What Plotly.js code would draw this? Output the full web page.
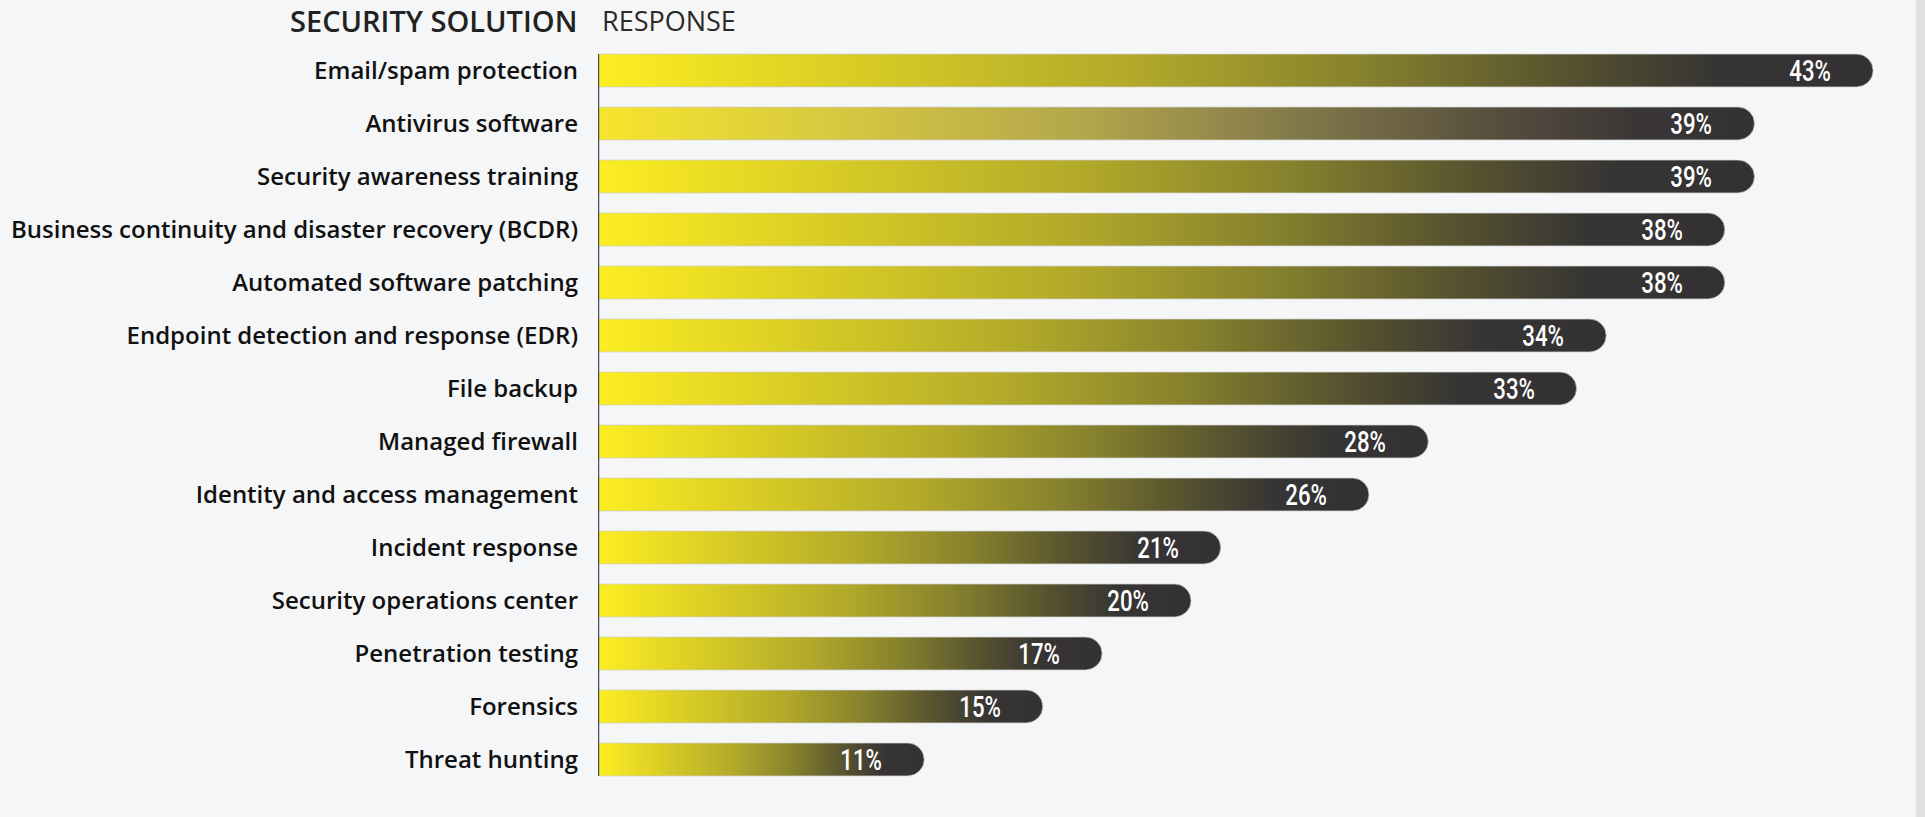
<!DOCTYPE html>
<html>
<head>
<meta charset="utf-8">
<script src="https://cdn.plot.ly/plotly-3.0.1.min.js"></script>
<style>
  html, body { margin: 0; padding: 0; background: #f5f6f8; }
  #chart { width: 1925px; height: 817px; }
</style>
</head>
<body>
<svg width="0" height="0" style="position:absolute">
  <defs>
    <linearGradient id="gradMain" x1="0" y1="0" x2="1" y2="0">
      <stop offset="0" stop-color="#fcee21"/>
      <stop offset="0.2" stop-color="#d9cc25"/>
      <stop offset="0.42" stop-color="#b2a92a"/>
      <stop offset="0.6" stop-color="#86812d"/>
      <stop offset="0.76" stop-color="#56522f"/>
      <stop offset="0.88" stop-color="#363434"/>
      <stop offset="1" stop-color="#333134"/>
    </linearGradient>
    <linearGradient id="gradAlt" x1="0" y1="0" x2="1" y2="0">
      <stop offset="0" stop-color="#f6e52c"/>
      <stop offset="0.2" stop-color="#d8c940"/>
      <stop offset="0.42" stop-color="#b3a64c"/>
      <stop offset="0.6" stop-color="#837a4a"/>
      <stop offset="0.78" stop-color="#564d3e"/>
      <stop offset="0.9" stop-color="#3a3636"/>
      <stop offset="1" stop-color="#333134"/>
    </linearGradient>
  </defs>
</svg>
<div id="chart"></div>
<script>
const categories = [
  "Email/spam protection",
  "Antivirus software",
  "Security awareness training",
  "Business continuity and disaster recovery (BCDR)",
  "Automated software patching",
  "Endpoint detection and response (EDR)",
  "File backup",
  "Managed firewall",
  "Identity and access management",
  "Incident response",
  "Security operations center",
  "Penetration testing",
  "Forensics",
  "Threat hunting"
];
const values = [43, 39, 39, 38, 38, 34, 33, 28, 26, 21, 20, 17, 15, 11];
const valueLabels = values.map(v => v + "%");
const headerLeft = "SECURITY SOLUTION";
const headerRight = "RESPONSE";

const bargap = 0.38;
const bw = 1 - bargap;

const trace = {
  type: "bar",
  orientation: "h",
  y: categories,
  x: values,
  marker: {
    color: "#b2a92a",
    cornerradius: "50%",
    line: { width: 1, color: "rgba(205,205,200,0.7)" }
  },
  hoverinfo: "skip",
  showlegend: false
};

const annotations = values.map((v, i) => ({
  x: v, y: categories[i], xref: "x", yref: "y",
  text: valueLabels[i],
  showarrow: false,
  xanchor: "right", yanchor: "middle",
  xshift: -33,
  font: { family: "Roboto, Open Sans, sans-serif", size: 30, color: "#ffffff", weight: 500 }
}));
annotations.push({
  x: 0, y: 1, xref: "paper", yref: "paper",
  text: headerLeft, showarrow: false,
  xanchor: "right", yanchor: "middle", xshift: -19, yshift: 24,
  font: { family: "Open Sans, sans-serif", size: 29, color: "#222222", weight: 600 }
});
annotations.push({
  x: 0, y: 1, xref: "paper", yref: "paper",
  text: headerRight, showarrow: false,
  xanchor: "left", yanchor: "middle", xshift: 2, yshift: 24,
  font: { family: "Open Sans, sans-serif", size: 27, color: "#2a2a2a", weight: 400 }
});

const layout = {
  width: 1925, height: 817,
  margin: { l: 598, r: 0, t: 44, b: 31 },
  paper_bgcolor: "#f5f6f8",
  plot_bgcolor: "#f5f6f8",
  bargap: bargap,
  xaxis: {
    range: [0, 44.75],
    showgrid: false, zeroline: false, showline: false,
    showticklabels: false, ticks: ""
  },
  yaxis: {
    type: "category",
    autorange: "reversed",
    showgrid: false, zeroline: false, showline: false,
    ticks: "",
    ticklabelstandoff: 19,
    tickfont: { family: "Open Sans, sans-serif", size: 24, color: "#111111", weight: 600 }
  },
  shapes: [
    {
      type: "line", xref: "x", yref: "y",
      x0: 0, x1: 0, y0: -bw / 2, y1: categories.length - 1 + bw / 2,
      line: { color: "#4a4f5a", width: 2.5 }
    },
    {
      type: "rect", xref: "paper", yref: "paper",
      x0: 0.9932, x1: 1.02, y0: -0.1, y1: 1.1,
      fillcolor: "#e0e0e0", line: { width: 0 }, layer: "above"
    }
  ],
  annotations: annotations
};

Plotly.newPlot("chart", [trace], layout, { displayModeBar: false, staticPlot: true }).then(gd => {
  const paths = gd.querySelectorAll(".barlayer .point path");
  paths.forEach((p, i) => {
    p.style.fill = (i === 1) ? "url(#gradAlt)" : "url(#gradMain)";
  });
  // narrow the value labels to mimic the condensed face of the original
  const texts = gd.querySelectorAll(".annotation .annotation-text");
  texts.forEach((t, i) => {
    if (i < values.length) {
      const w = t.getComputedTextLength();
      t.setAttribute("textLength", (w * 0.74).toFixed(1));
      t.setAttribute("lengthAdjust", "spacingAndGlyphs");
    }
  });
});
</script>
</body>
</html>
